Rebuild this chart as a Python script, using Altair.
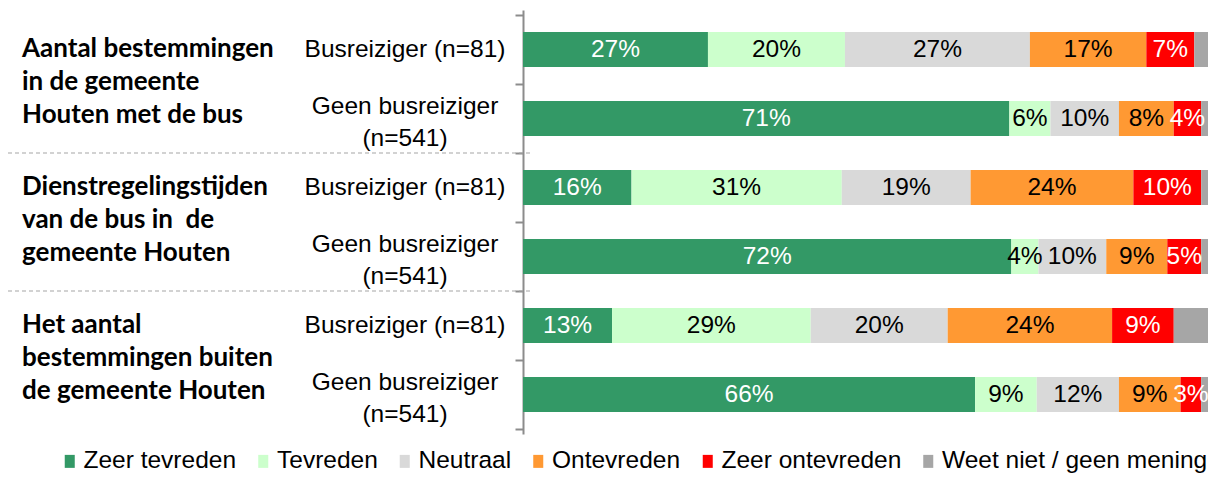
import altair as alt
import pandas as pd

categories = ["Zeer tevreden", "Tevreden", "Neutraal", "Ontevreden",
              "Zeer ontevreden", "Weet niet / geen mening"]
colors = ["#339966", "#CCFFCC", "#D9D9D9", "#FF9933", "#FF0000", "#A6A6A6"]
text_colors = ["white", "black", "black", "black", "white", "white"]

group_labels = ["Aantal bestemmingen|in de gemeente|Houten met de bus",
                "Dienstregelingstijden|van de bus in\u00a0 de|gemeente Houten",
                "Het aantal|bestemmingen buiten|de gemeente Houten"]
sub_single = ["Busreiziger (n=81)", "Busreiziger (n=81)", "Busreiziger (n=81)"]
sub_double = ["Geen busreiziger|(n=541)", "Geen busreiziger|(n=541)", "Geen busreiziger|(n=541)"]

row1 = [27, 20, 27, 17, 7, 2]
row2 = [71, 6, 10, 8, 4, 1]
row3 = [16, 31, 19, 24, 10, 1]
row4 = [72, 4, 10, 9, 5, 1]
row5 = [13, 29, 20, 24, 9, 5]
row6 = [66, 9, 12, 9, 3, 1]
rows = [row1, row2, row3, row4, row5, row6]
show_label = [True, True, True, True, True, False]

recs = []
for i, r in enumerate(rows):
    for j, v in enumerate(r):
        recs.append({"row": i, "ypos": i + 0.5, "cat": categories[j], "order": j,
                     "value": v, "label": f"{v}%" if show_label[j] else "",
                     "tcolor": text_colors[j]})
df = pd.DataFrame(recs)

single_df = pd.DataFrame({"ypos": [0.5, 2.5, 4.5], "txt": sub_single})
double_df = pd.DataFrame({"ypos": [1.5, 3.5, 5.5], "txt": sub_double})
grp_df = pd.DataFrame({"ypos": [1, 3, 5], "txt": group_labels})
sep_df = pd.DataFrame({"ypos": [2, 4]})

yscale = alt.Scale(domain=[0, 6], reverse=True, nice=False, zero=False)
yaxis = alt.Axis(values=[0, 1, 2, 3, 4, 5, 6], labels=False, grid=False, ticks=True,
                 tickSize=8, tickColor="#8C8C8C", domainColor="#8C8C8C",
                 domainWidth=2, tickWidth=2, title=None)
Y = alt.Y("ypos:Q", scale=yscale, axis=yaxis)
xscale = alt.Scale(domain=[0, 1], nice=False, zero=False)

FONT = "Liberation Sans"

base = alt.Chart(df).transform_stack(
    stack="value", groupby=["row"], as_=["x0", "x1"], offset="normalize",
    sort=[alt.SortField("order", "ascending")]
).transform_calculate(xm="(datum.x0 + datum.x1) / 2")

bars = base.mark_bar(size=35).encode(
    x=alt.X("x0:Q", scale=xscale, axis=None),
    x2="x1:Q",
    y=Y,
    color=alt.Color("cat:N", scale=alt.Scale(domain=categories, range=colors),
                    legend=alt.Legend(orient="none", legendX=-465.5, legendY=439,
                                      direction="horizontal", title=None, padding=0,
                                      symbolType="M-0.77,-1H0.77V1H-0.77Z",
                                      symbolSize=169, symbolStrokeWidth=0,
                                      labelFontSize=24.5, labelFont=FONT,
                                      labelColor="black", labelOffset=1.5,
                                      columnPadding=14.5, labelLimit=400)),
)

labels = base.mark_text(fontSize=24.5, font=FONT, baseline="middle").encode(
    x=alt.X("xm:Q", scale=xscale, axis=None),
    y=Y,
    text="label:N",
    color=alt.Color("tcolor:N", scale=None),
)

subs1 = alt.Chart(single_df).mark_text(align="center", baseline="middle",
                                       fontSize=24.5, font=FONT, color="black").encode(
    x=alt.value(-118), y=Y, text="txt:N")

subs2 = alt.Chart(double_df).mark_text(align="center", baseline="middle", lineBreak="|",
                                       fontSize=24.5, lineHeight=32, dy=-12, font=FONT,
                                       color="black").encode(
    x=alt.value(-118), y=Y, text="txt:N")

groups = alt.Chart(grp_df).mark_text(align="left", baseline="middle", lineBreak="|",
                                     fontSize=26, lineHeight=33, dy=-35, font="Lato",
                                     fontWeight="bold", color="black").encode(
    x=alt.value(-501), y=Y, text="txt:N")

seps = alt.Chart(sep_df).mark_rule(strokeDash=[4, 3], color="#A6A6A6", strokeWidth=1.2).encode(
    y=Y, x=alt.value(-515), x2=alt.value(7))

chart = alt.layer(seps, bars, labels, subs1, subs2, groups).properties(
    width=685, height=424,
    autosize=alt.AutoSizeParams(type="none"),
    padding={"left": 515, "top": 2, "right": 0, "bottom": 40},
).configure_view(stroke=None)

chart.save("out.html", embed_options={"renderer": "svg", "actions": False})
